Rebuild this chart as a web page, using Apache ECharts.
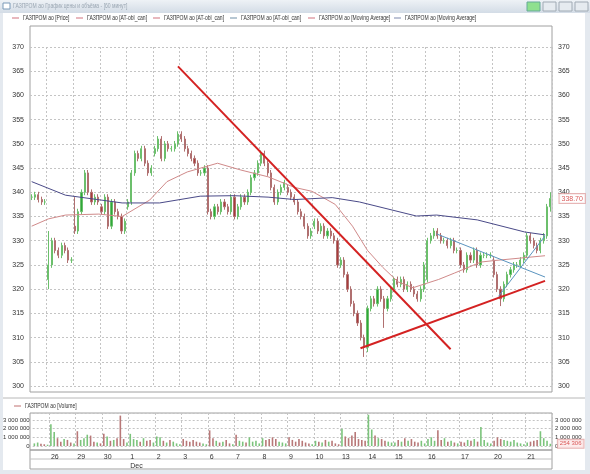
<!DOCTYPE html>
<html><head><meta charset="utf-8">
<script src="https://cdn.jsdelivr.net/npm/echarts@6/dist/echarts.min.js"></script>
<style>html,body{margin:0;padding:0;background:#e4e9ef}#c{width:590px;height:474px}</style>
</head><body><div id="c"></div>
<script>
// ---- data ----
const dayLabels = ['', '26', '29', '30', '1', '2', '3', '6', '7', '8', '9', '10', '13', '14', '15', '16', '17', '20', '21'];
const dayOpens  = [339, 322, 333, 337, 337, 348, 352, 345, 339, 346, 341, 333, 325, 308, 320, 322, 328, 326, 327];
const dayCloses = [
  [339, 339.5, 338.5, 338, 338],
  [325, 330, 328, 327, 329, 328, 326, 326],
  [332, 336, 340, 344, 340, 338, 339, 338],
  [336, 339, 333, 338, 336, 335, 332, 334],
  [338, 344, 348, 347, 349, 346, 344, 345],
  [349, 351, 347, 350, 349, 349, 350, 352],
  [351, 349, 348, 347, 346, 344, 344, 345],
  [336, 335, 337, 336, 338, 337, 336, 339],
  [335, 337, 339, 338, 340, 343, 344, 346],
  [348, 346, 344, 341, 338, 340, 341, 342],
  [340, 339, 338, 336, 335, 333, 331, 332],
  [334, 332, 333, 331, 332, 331, 330, 325],
  [326, 323, 320, 317, 315, 313, 310, 308],
  [316, 318, 317, 320, 318, 316, 318, 320],
  [322, 321, 322, 320, 321, 320, 319, 318, 320, 325],
  [330, 331, 332, 331, 330, 330, 329, 330, 328, 328],
  [325, 324, 327, 326, 328, 325, 327, 327, 327, 327],
  [323, 320, 318, 321, 323, 324, 325, 325, 326, 327],
  [331, 330, 329, 328, 330, 331, 337, 338.7]
];
const wickExtremes = {5: [320, 332], 13: [332, 339], 100: [306, 310], 101: [307, 316], 106: [312, 318], 141: [316.5, 320], 156: [336, 340]};
const volumes = [
  300,400,250,200,150,
  2500,1600,900,500,800,700,400,300,
  1700,700,900,1300,1200,500,400,300,
  1400,1100,600,700,900,3500,800,400,
  1400,800,700,500,900,600,700,400,
  1100,1000,600,400,700,500,300,200,
  800,600,500,700,500,400,300,200,
  1800,900,600,400,500,700,300,200,
  1300,600,500,400,1000,500,600,300,
  900,700,800,1000,800,500,400,300,
  1000,700,500,800,600,400,300,200,
  600,500,400,700,500,600,300,200,
  2000,1100,900,1200,1600,800,700,600,
  3600,1900,1200,900,800,600,500,400,
  400,700,500,900,600,800,500,400,600,300,
  800,1000,600,1800,700,900,500,600,400,300,
  500,400,700,600,800,500,2200,700,400,300,
  600,1000,800,700,600,500,700,400,300,200,
  400,500,600,700,1700,900,600,254.306
];
// moving averages: [candle position, price]
const maFast = [[0,333],[5,334.5],[10.2,335.3],[20.2,335.5],[27.2,335],[35.5,338.4],[40.7,342.2],[46.8,344.2],[55.9,346],[62.9,344.6],[71.1,343.2],[79.1,341],[84.3,340.2],[91.3,337.5],[96.5,333],[101,328],[105.6,324.5],[110.2,321.5],[114.7,320.3],[122.4,322],[127.1,323.3],[135.2,325.6],[139.1,325.9],[154.4,326.9]];
const maSlow = [[0,342.2],[10.2,339.4],[27.2,337.8],[38.5,337.8],[50.7,339.2],[60.8,339.3],[71.1,339],[79.1,338.5],[90.4,338.9],[98.6,338],[115.7,335.1],[121.8,335.3],[134,334.3],[148.3,331.8],[154.4,331.2]];
const trendRed1 = [[44,366],[126,307.6]];
const trendRed2 = [[98.9,307.8],[154.4,321.7]];
const trendBlue1 = [[121.8,331.4],[154.4,322.5]];
const trendBlue2 = [[140.4,318.5],[154.4,331]];
const lastPrice = 338.7;
const lastVolume = 254306;

// ---- build ----
const cats = [], ohlc = [], dayStart = {}, volData = [];
let prev = null, idx = 0;
dayCloses.forEach((arr, d) => {
  dayStart[idx] = dayLabels[d];
  arr.forEach((c, k) => {
    const o = k === 0 ? dayOpens[d] : prev;
    let lo = Math.min(o, c) - 0.6, hi = Math.max(o, c) + 0.6;
    if (wickExtremes[idx]) { lo = Math.min(lo, wickExtremes[idx][0]); hi = Math.max(hi, wickExtremes[idx][1]); }
    ohlc.push([o, c, lo, hi]);
    cats.push(String(idx));
    volData.push({value: volumes[idx] * 1000, itemStyle: {color: c >= o ? '#7cc47c' : '#b87878'}});
    prev = c; idx++;
  });
});
const N = cats.length;
const isDayStart = i => dayStart[i] !== undefined && i !== 0;
const fmtVol = v => v === 0 ? '0' : String(v).replace(/\B(?=(\d{3})+(?!\d))/g, ' ');
const F = '"Liberation Sans", Arial, sans-serif';
const lab = {fontSize: 7, color: '#333', fontFamily: F};

const chart = echarts.init(document.getElementById('c'));
const legendItems = [
  ['ГАЗПРОМ ао [Price]', '#e0a0a8', 12],
  ['ГАЗПРОМ ао [AT-obl_can]', '#e0a0a8', 76],
  ['ГАЗПРОМ ао [AT-obl_can]', '#e0a0a8', 153],
  ['ГАЗПРОМ ао [AT-obl_can]', '#9fb5c5', 230],
  ['ГАЗПРОМ ао [Moving Average]', '#e0a0a8', 308],
  ['ГАЗПРОМ ао [Moving Average]', '#a8b0c8', 394]
];
const graphics = [
  {type: 'rect', shape: {x: 0, y: 0, width: 590, height: 13}, style: {fill: new echarts.graphic.LinearGradient(0,0,0,1,[{offset:0,color:'#eef2f6'},{offset:1,color:'#d3dce6'}])}, z: -1},
  {type: 'rect', shape: {x: 3, y: 3, width: 7, height: 6}, style: {fill: '#fff', stroke: '#7a9ab8'}},
  {type: 'text', x: 13, y: 3, scaleX: 0.72, style: {text: 'ГАЗПРОМ ао График цены и объёма - [60 минут]', fontSize: 7, fill: '#9aa6b2', fontFamily: F}},
  {type: 'rect', shape: {x: 527, y: 2, width: 13, height: 9}, style: {fill: '#8fe08f', stroke: '#6a9'}},
  {type: 'rect', shape: {x: 543, y: 2, width: 13, height: 9}, style: {fill: '#e6ebf0', stroke: '#a0aab4'}},
  {type: 'rect', shape: {x: 559, y: 2, width: 13, height: 9}, style: {fill: '#e6ebf0', stroke: '#a0aab4'}},
  {type: 'rect', shape: {x: 575, y: 2, width: 13, height: 9}, style: {fill: '#e6ebf0', stroke: '#a0aab4'}},
  {type: 'rect', shape: {x: 3, y: 13, width: 582, height: 457}, style: {fill: '#fff'}, z: -2},
  {type: 'rect', shape: {x: 30, y: 26, width: 522, height: 366}, style: {fill: 'none', stroke: '#a0a0a0', lineWidth: 1}},
  {type: 'line', shape: {x1: 3, y1: 398, x2: 585, y2: 398}, style: {stroke: '#b8b8b8'}},
  {type: 'rect', shape: {x: 30, y: 413, width: 522, height: 37}, style: {fill: 'none', stroke: '#a0a0a0'}},
  {type: 'rect', shape: {x: 30, y: 450, width: 522, height: 19}, style: {fill: 'none', stroke: '#a0a0a0'}},
  {type: 'line', shape: {x1: 30, y1: 459, x2: 552, y2: 459}, style: {stroke: '#c0c0c0'}},
  {type: 'line', shape: {x1: 14, y1: 406, x2: 21, y2: 406}, style: {stroke: '#c07070', lineWidth: 1}},
  {type: 'text', x: 25, y: 403, scaleX: 0.72, style: {text: 'ГАЗПРОМ ао [Volume]', fontSize: 7, fill: '#333', fontFamily: F}}
];
legendItems.forEach(([t, c, x]) => {
  graphics.push({type: 'line', shape: {x1: x, y1: 18, x2: x + 7, y2: 18}, style: {stroke: c, lineWidth: 1.5}});
  graphics.push({type: 'text', x: x + 11, y: 15, scaleX: 0.72, style: {text: t, fontSize: 7, fill: '#333', fontFamily: F}});
});

const lineS = (data, color, w) => ({type: 'line', xAxisIndex: 2, yAxisIndex: 0, data, symbol: 'none', silent: true,
  lineStyle: {color, width: w}, z: 5});
const volLab = {fontSize: 6, color: '#333', fontFamily: F, margin: 3, formatter: fmtVol, showMaxLabel: false};
const tagLabel = (txt, bg, fs) => ({show: true, position: 'right', distance: 7, formatter: txt, fontSize: fs, color: '#d03030', fontFamily: F,
  backgroundColor: bg, borderColor: '#e0a0a0', borderWidth: 1, padding: [1, 2]});

chart.setOption({
  animation: false,
  backgroundColor: 'transparent',
  graphic: graphics,
  grid: [
    {left: 30, right: 38, top: 47, height: 339},
    {left: 30, right: 38, top: 413, height: 33}
  ],
  xAxis: [
    {type: 'category', data: cats, gridIndex: 0, axisLine: {show: false}, axisTick: {show: false}, axisLabel: {show: false},
     splitLine: {show: true, interval: (i) => isDayStart(i), lineStyle: {color: '#c4c4c4', type: [2, 2]}}},
    {type: 'category', data: cats, gridIndex: 1, axisLine: {show: false}, axisTick: {show: false},
     axisLabel: {interval: (i) => isDayStart(i), formatter: (v) => {const i = +v; return dayStart[i] === '1' ? '{a|1}\n{a|Dec}' : '{a|' + dayStart[i] + '}';},
       align: 'left', margin: 7, rich: {a: {fontSize: 7, color: '#333', fontFamily: F, lineHeight: 9}}},
     splitLine: {show: true, interval: (i) => isDayStart(i), lineStyle: {color: '#c4c4c4', type: [2, 2]}}},
    {type: 'value', gridIndex: 0, min: -0.5, max: N - 0.5, show: false}
  ],
  yAxis: [
    {type: 'value', gridIndex: 0, min: 300, max: 370, interval: 5, position: 'left', axisLine: {show: false}, axisTick: {show: false},
     axisLabel: Object.assign({margin: 6}, lab), splitLine: {lineStyle: {color: '#c4c4c4', type: [2, 2]}}},
    {type: 'value', gridIndex: 0, min: 300, max: 370, interval: 5, position: 'right', axisLine: {show: false}, axisTick: {show: false},
     axisLabel: Object.assign({margin: 6}, lab), splitLine: {show: false}},
    {type: 'value', gridIndex: 1, min: 0, max: 3800000, interval: 1000000, position: 'left', axisLine: {show: false}, axisTick: {show: false},
     axisLabel: volLab, splitLine: {lineStyle: {color: '#c4c4c4', type: [2, 2]}}},
    {type: 'value', gridIndex: 1, min: 0, max: 3800000, interval: 1000000, position: 'right', axisLine: {show: false}, axisTick: {show: false},
     axisLabel: volLab, splitLine: {show: false}}
  ],
  series: [
    lineS(maFast, '#d08a8a', 1),
    lineS(maSlow, '#4a4a88', 1),
    {type: 'candlestick', xAxisIndex: 0, yAxisIndex: 0, data: ohlc, barMaxWidth: 2.2, z: 4,
     itemStyle: {color: '#2fa83a', color0: '#a83c3c', borderColor: '#6cbf6c', borderColor0: '#b07070', borderWidth: 1}},
    lineS(trendRed1, '#d42222', 2),
    lineS(trendRed2, '#d42222', 2),
    lineS(trendBlue1, '#5a94bf', 1),
    lineS(trendBlue2, '#5a94bf', 1),
    {type: 'scatter', xAxisIndex: 2, yAxisIndex: 0, data: [[N - 0.5, lastPrice]], symbolSize: 1, itemStyle: {color: 'rgba(0,0,0,0)'}, clip: false, silent: true, z: 10,
     label: tagLabel('338.70', '#fff', 7)},
    {type: 'bar', xAxisIndex: 1, yAxisIndex: 2, data: volData, barMaxWidth: 1.6, barCategoryGap: '40%'},
    {type: 'scatter', xAxisIndex: 1, yAxisIndex: 3, data: [[N - 1, lastVolume]], symbolSize: 1, itemStyle: {color: 'rgba(0,0,0,0)'}, clip: false, silent: true, z: 10,
     label: tagLabel('254 306', '#fde8e8', 6)}
  ]
});
</script></body></html>
